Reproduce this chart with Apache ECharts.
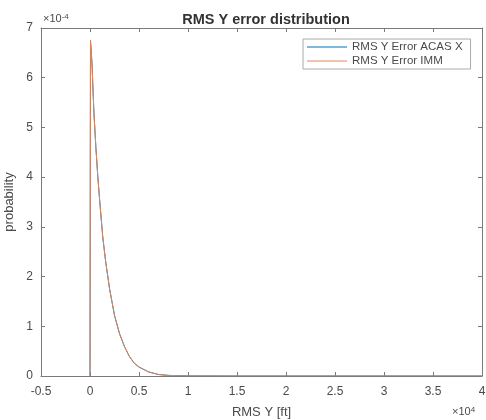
<!DOCTYPE html>
<html><head><meta charset="utf-8">
<script src="https://cdn.jsdelivr.net/npm/echarts@6/dist/echarts.min.js"></script>
<style>html,body{margin:0;padding:0;background:#fff}#c{width:486px;height:420px}</style>
</head><body><div id="c"></div>
<script>
// x in units of 1e4 ft, y in units of 1e-4
var xTicks = [-0.5, 0, 0.5, 1, 1.5, 2, 2.5, 3, 3.5, 4];
var rmsX = [0, 0.005, 0.02, 0.04, 0.06, 0.08, 0.1, 0.13, 0.16, 0.2, 0.25, 0.3, 0.35, 0.4, 0.45, 0.5, 0.6, 0.7, 0.8, 1.0, 1.5, 2, 3, 4];
var acasY = [0, 6.75, 6.3, 5.3, 4.6, 4.0, 3.5, 2.8, 2.3, 1.75, 1.22, 0.86, 0.6, 0.4, 0.26, 0.18, 0.08, 0.03, 0.012, 0.002, 0, 0, 0, 0];
var immY  = [0, 6.75, 6.3, 5.3, 4.6, 4.0, 3.5, 2.8, 2.3, 1.75, 1.22, 0.86, 0.6, 0.4, 0.26, 0.18, 0.08, 0.03, 0.012, 0.002, 0, 0, 0, 0];
function pairs(xs, ys){ return xs.map(function(x,i){return [x, ys[i]];}); }
var font = 'Liberation Sans';
var axisCol = '#7a7a7a', txtCol = '#4a4a4a';
var chart = echarts.init(document.getElementById('c'));
function ax(extra){ return Object.assign({
    axisLine:{show:true, onZero:false, lineStyle:{color:axisCol}},
    axisTick:{show:true, inside:true, length:4, lineStyle:{color:axisCol}},
    splitLine:{show:false}}, extra); }
chart.setOption({
  animation:false,
  backgroundColor:'#fff',
  title:{text:'RMS Y error distribution', left:261, top:7, textAlign:'center',
    textStyle:{fontFamily:font, fontSize:14.5, fontWeight:'bold', color:'#333'}},
  grid:{left:41, right:4, top:28, bottom:44, containLabel:false, outerBoundsMode:'none'},
  legend:{orient:'vertical', left:303, top:39, itemWidth:40, itemHeight:1, itemGap:2,
    padding:[2,8,2,4], borderColor:'#aaa', borderWidth:1, backgroundColor:'#fff',
    icon:'rect',
    textStyle:{fontFamily:font, fontSize:11.5, color:txtCol},
    data:['RMS Y Error ACAS X','RMS Y Error IMM']},
  xAxis:[ax({type:'value', min:-0.5, max:4, interval:0.5, position:'bottom',
    name:'RMS Y [ft]', nameLocation:'middle', nameGap:30,
    nameTextStyle:{fontFamily:font, fontSize:13, color:txtCol},
    axisLabel:{fontFamily:font, fontSize:12, color:txtCol, margin:10, formatter:function(v){return String(v);}}}),
   ax({type:'value', min:-0.5, max:4, interval:0.5, position:'top', axisLabel:{show:false}})],
  yAxis:[ax({type:'value', min:0, max:7, interval:1, position:'left',
    name:'probability', nameLocation:'middle', nameGap:15,
    nameTextStyle:{fontFamily:font, fontSize:13, color:txtCol},
    axisLabel:{fontFamily:font, fontSize:12, color:txtCol, margin:8}}),
   ax({type:'value', min:0, max:7, interval:1, position:'right', axisLabel:{show:false}})],
  series:[
    {name:'RMS Y Error ACAS X', type:'line', symbol:'none', data:pairs(rmsX, acasY),
      lineStyle:{color:'#0072BD', width:1}, itemStyle:{color:'#0072BD'}},
    {name:'RMS Y Error IMM', type:'line', symbol:'none', data:pairs(rmsX, immY),
      lineStyle:{color:'#E0875A', width:1}, itemStyle:{color:'#E0875A'}}
  ],
  graphic:[
    {type:'text', left:43, top:13, style:{text:'×10{s|-4}', fontFamily:font, fontSize:11, fill:txtCol,
      rich:{s:{fontSize:8, verticalAlign:'top', fill:txtCol, fontFamily:font}}}},
    {type:'text', left:452, top:406, style:{text:'×10{s|4}', fontFamily:font, fontSize:11, fill:txtCol,
      rich:{s:{fontSize:8, verticalAlign:'top', fill:txtCol, fontFamily:font}}}}
  ]
});
</script></body></html>
